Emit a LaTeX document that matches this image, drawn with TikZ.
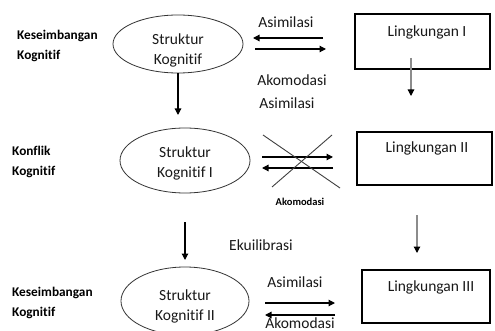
\documentclass[tikz,border=0pt]{standalone}
\usepackage{fontspec}
\setmainfont[Ligatures=NoCommon]{Carlito}
\usetikzlibrary{shapes.geometric,arrows.meta}
\begin{document}
\begin{tikzpicture}[x=1pt,y=-1pt,
  struk/.style={ellipse,draw=black!80,line width=0.8pt,inner sep=0pt},
  lbox/.style={rectangle,draw=black,line width=1.3pt,inner sep=0pt},
  txt/.style={font=\fontsize{15.5}{20}\selectfont,align=center,inner sep=0pt,text=black!90},
  smalltxt/.style={font=\bfseries\fontsize{10.5}{13}\selectfont,inner sep=0pt},
  side/.style={font=\bfseries\fontsize{13.3}{19.5}\selectfont,align=left,anchor=west,inner sep=0pt},
  arr/.style={line width=1.2pt,-{Triangle[length=6.5pt,width=6.5pt]}},
  garr/.style={draw=black!45,line width=1.2pt,-{Triangle[length=6.5pt,width=6.5pt,color=black]}},
  crossl/.style={draw=black!75,line width=0.9pt}]
\clip (0,0) rectangle (495,331);
\fill[white] (0,0) rectangle (495,331);

% left labels
\node[side] (l1) at (17,46) {Keseimbangan\\Kognitif};
\node[side] (l2) at (12,162) {Konflik\\Kognitif};
\node[side] (l3) at (12,303) {Keseimbangan\\Kognitif};

% ellipses
\node[struk,minimum width=130,minimum height=58] (s1) at (178,44) {};
\node[txt] (s1t) at (178,50) {Struktur\\Kognitif};
\node[struk,minimum width=130,minimum height=65] (s2) at (185,160.5) {};
\node[txt] (s2t) at (185,163.5) {Struktur\\Kognitif I};
\node[struk,minimum width=128,minimum height=68] (s3) at (185,301) {};
\node[txt] (s3t) at (185,306) {Struktur\\Kognitif II};

% boxes
\node[lbox,minimum width=135,minimum height=55] (b1) at (422.5,41.5) {};
\node[txt] (b1t) at (427,32) {Lingkungan I};
\node[lbox,minimum width=135,minimum height=53] (b2) at (424.5,158.5) {};
\node[txt] (b2t) at (427,148) {Lingkungan II};
\node[lbox,minimum width=128,minimum height=53] (b3) at (426,296.5) {};
\node[txt] (b3t) at (431,287) {Lingkungan III};

% middle labels
\node[txt] (a1) at (286,22) {Asimilasi};
\node[txt] (k1) at (292,80) {Akomodasi};
\node[txt] (a2) at (287,103) {Asimilasi};
\node[smalltxt] (k2) at (300,202) {Akomodasi};
\node[txt] (ek) at (261,245) {Ekuilibrasi};
\node[txt] (a3) at (295,282) {Asimilasi};
\node[txt,text depth=0pt,anchor=base] (k3) at (300,328.5) {Akomodasi};

% coordinates for free-standing arrows
\coordinate (t1a) at (323,38); \coordinate (t1b) at (253,38);
\coordinate (t2a) at (255,49); \coordinate (t2b) at (326,49);
\coordinate (m1a) at (262,157); \coordinate (m1b) at (333,157);
\coordinate (m2a) at (333,168); \coordinate (m2b) at (262,168);
\coordinate (x1a) at (263,135); \coordinate (x1b) at (340,188);
\coordinate (x2a) at (332,135); \coordinate (x2b) at (272,187);
\coordinate (u1a) at (265,303); \coordinate (u1b) at (335,303);
\coordinate (u2a) at (335,315); \coordinate (u2b) at (265,315);
\coordinate (d1) at (178,115);
\coordinate (d2a) at (185,222); \coordinate (d2b) at (185,260);
\coordinate (g1a) at (411,58); \coordinate (g1b) at (411,96);
\coordinate (g2a) at (417,215); \coordinate (g2b) at (417,253);

% arrows
\draw[arr] (t1a) -- (t1b);
\draw[arr] (t2a) -- (t2b);
\draw[arr] (m1a) -- (m1b);
\draw[arr] (m2a) -- (m2b);
\draw[crossl] (x1a) -- (x1b);
\draw[crossl] (x2a) -- (x2b);
\draw[arr] (u1a) -- (u1b);
\draw[arr] (u2a) -- (u2b);
\draw[arr] (s1.south) -- (d1);
\draw[arr] (d2a) -- (d2b);
\draw[garr] (g1a) -- (g1b);
\draw[garr] (g2a) -- (g2b);
\end{tikzpicture}
\end{document}
